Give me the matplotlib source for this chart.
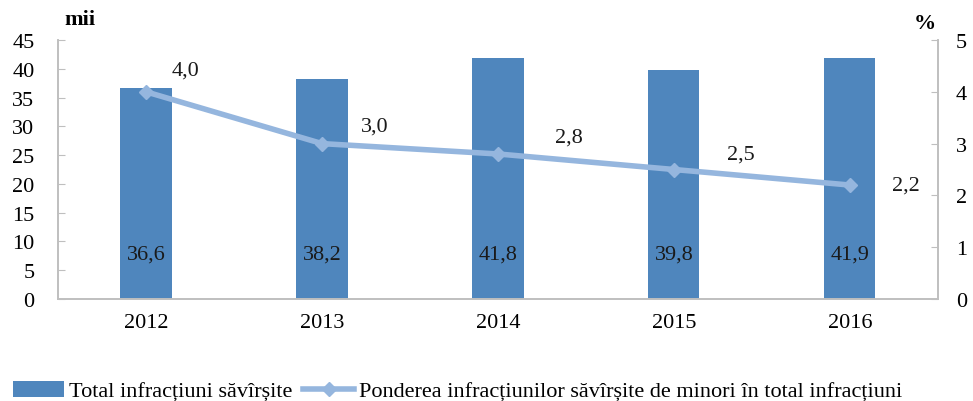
import matplotlib
matplotlib.use("Agg")
import matplotlib.pyplot as plt

years = ["2012", "2013", "2014", "2015", "2016"]
total = [36.6, 38.2, 41.8, 39.8, 41.9]
share = [4.0, 3.0, 2.8, 2.5, 2.2]
total_labels = ["36,6", "38,2", "41,8", "39,8", "41,9"]
share_labels = ["4,0", "3,0", "2,8", "2,5", "2,2"]
left_ticks = [0, 5, 10, 15, 20, 25, 30, 35, 40, 45]
right_ticks = [0, 1, 2, 3, 4, 5]

plt.rcParams['font.family'] = ['Liberation Serif', 'DejaVu Serif']

bar_color = "#4F86BD"
line_color = "#95B6DE"
grey = "#BFBFBF"
FS = 16

fig = plt.figure(figsize=(9.73, 4.02), dpi=100)
ax = fig.add_axes([0.0596, 0.2537, 0.9044, 0.6443])
ax2 = ax.twinx()

x = list(range(len(years)))
bars = ax.bar(x, total, width=0.29, color=bar_color, zorder=2,
              label="Total infracțiuni săvîrșite")
for xi, lab in zip(x, total_labels):
    ax.text(xi, 7.8, lab, ha="center", va="center", fontsize=FS, color="#1a1a1a", zorder=3)

ax.set_xlim(-0.5, 4.5)
ax.set_ylim(0, 45)
ax.set_yticks(left_ticks)
ax.set_xticks(x)
ax.set_xticklabels(years)
ax2.set_ylim(0, 5)
ax2.set_yticks(right_ticks)

ln, = ax2.plot(x, share, color=line_color, lw=4, marker="D", markersize=7,
               zorder=4, label="Ponderea infracțiunilor săvîrșite de minori în total infracțiuni")
offsets = [(40, 22), (53, 18), (71, 17), (67, 15), (56, 0)]
for xi, v, lab, off in zip(x, share, share_labels, offsets):
    ax2.annotate(lab, (xi, v), xytext=off, textcoords="offset pixels",
                 ha="center", va="center", fontsize=FS, color="#1a1a1a")

for a in (ax, ax2):
    a.spines["top"].set_visible(False)
    for s in ("left", "right", "bottom"):
        a.spines[s].set_color(grey)
        a.spines[s].set_linewidth(1.2)
ax.tick_params(axis="y", direction="in", length=5, color=grey, labelsize=FS, pad=17)
ax2.tick_params(axis="y", direction="in", length=5, color=grey, labelsize=FS, pad=13)
ax.tick_params(axis="x", length=0, labelsize=FS, pad=10)

fig.text(80/973, 1 - 20/402, "mii", ha="center", va="center", fontsize=FS, fontweight="bold")
fig.text(925/973, 1 - 24/402, "%", ha="center", va="center", fontsize=FS, fontweight="bold")

fig.legend(handles=[bars, ln], loc="lower left", bbox_to_anchor=(-0.007, -0.052),
           ncol=2, frameon=False, fontsize=FS, handlelength=2.3, handletextpad=0.2,
           columnspacing=0.5)

fig.savefig("out.png", dpi=100)
